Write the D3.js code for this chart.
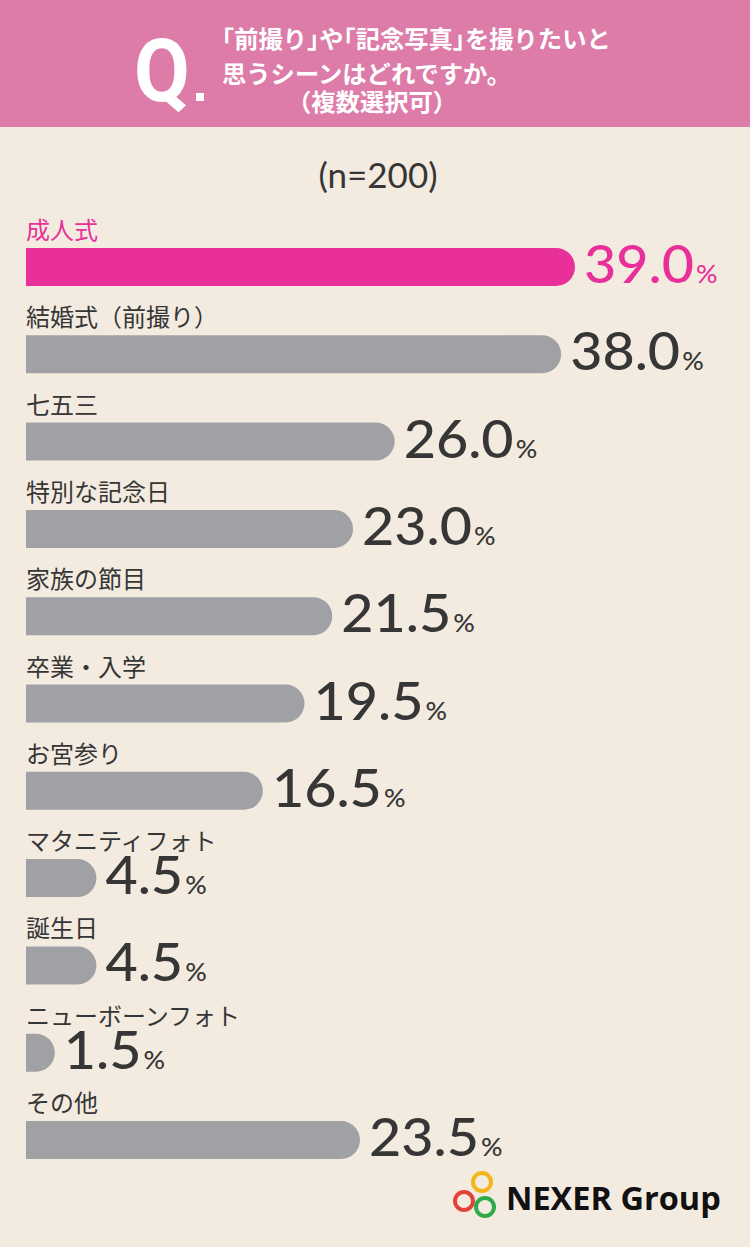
<!DOCTYPE html>
<html>
<head>
<meta charset="utf-8">
<script src="https://cdn.jsdelivr.net/npm/d3@7"></script>
<style>
  html, body { margin: 0; padding: 0; background: #f3ebe0; }
  svg { display: block; }
</style>
</head>
<body>
<div id="chart"></div>
<script>
// data
const categories = ['成人式', '結婚式（前撮り）', '七五三', '特別な記念日', '家族の節目',
  '卒業・入学', 'お宮参り', 'マタニティフォト', '誕生日', 'ニューボーンフォト', 'その他'];
const values = [39.0, 38.0, 26.0, 23.0, 21.5, 19.5, 16.5, 4.5, 4.5, 1.5, 23.5];
const titleLines = ['「前撮り」や「記念写真」を撮りたいと', '思うシーンはどれですか。', '（複数選択可）'];
const sampleLabel = '(n=200)';

const W = 750, H = 1247;
const pink = '#e9309a', gray = '#a0a1a5', ink = '#363636';
const jp = '"Noto Sans CJK JP", "Noto Sans", sans-serif';

const svg = d3.select('#chart').append('svg')
  .attr('width', W).attr('height', H);

svg.append('rect').attr('width', W).attr('height', H).attr('fill', '#f3ebe0');

// header band
svg.append('rect').attr('width', W).attr('height', 127).attr('fill', '#dd7ca9');

svg.append('text')
  .attr('transform', 'translate(134,101) scale(0.92,1)')
  .attr('font-family', 'Roboto, sans-serif')
  .attr('font-weight', 700)
  .attr('font-size', 88)
  .attr('fill', '#fff')
  .text('Q');
svg.append('rect')
  .attr('x', 196).attr('y', 93).attr('width', 8).attr('height', 8)
  .attr('fill', '#fff');

// brackets are set half width, like the original
const tfs = 24.3;
function bracketDx(s) {
  const chars = Array.from(s);
  return chars.map((c, i) => {
    let dx = 0;
    if (c === '「') dx -= tfs / 2;
    if (i > 0 && chars[i - 1] === '」') dx -= tfs / 2;
    return dx;
  }).join(' ');
}
const titleY = [48, 83, 111];
const titleX = [222, 222, 287];
svg.append('g').selectAll('text')
  .data(titleLines)
  .join('text')
  .attr('x', (d, i) => titleX[i])
  .attr('y', (d, i) => titleY[i])
  .attr('dx', d => bracketDx(d))
  .attr('font-family', jp)
  .attr('font-weight', 700)
  .attr('font-size', tfs)
  .attr('fill', '#fff')
  .text(d => d);

svg.append('text')
  .attr('x', 378).attr('y', 188)
  .attr('text-anchor', 'middle')
  .attr('font-family', 'Lato, sans-serif')
  .attr('font-size', 35)
  .attr('fill', ink)
  .text(sampleLabel);

// bars
const x0 = 26;
const x = d3.scaleLinear().domain([0, 39]).range([8, 549]);
const y = d3.scalePoint().domain(categories).range([248, 1121]);

const barH = 38, r = 19;
const row = svg.append('g').selectAll('g')
  .data(categories.map((c, i) => ({ c, v: values[i], i })))
  .join('g')
  .attr('transform', d => `translate(0,${y(d.c)})`);

function barPath(w) {
  const rr = Math.min(r, w);
  return `M${x0},0 H${x0 + w - rr} A${rr},${rr} 0 0 1 ${x0 + w},${rr}` +
    ` V${barH - rr} A${rr},${rr} 0 0 1 ${x0 + w - rr},${barH} H${x0} Z`;
}

row.append('path')
  .attr('d', d => barPath(x(d.v)))
  .attr('fill', d => d.i === 0 ? pink : gray);

row.append('text')
  .attr('x', x0).attr('y', -9)
  .attr('font-family', jp)
  .attr('font-size', 24)
  .attr('fill', d => d.i === 0 ? pink : ink)
  .text(d => d.c);

const val = row.append('text')
  .attr('transform', d => `translate(${x0 + x(d.v) + 9},35) scale(1.07,1)`)
  .attr('font-family', 'Lato, sans-serif')
  .attr('font-weight', 500)
  .attr('fill', d => d.i === 0 ? pink : ink);
val.append('tspan').attr('font-size', 52).text(d => d.v.toFixed(1));
val.append('tspan').attr('font-size', 25).attr('dx', 2).text('%');

// logo
const logo = svg.append('g');
[['#f2b51c', 482, 1182], ['#e1433b', 464, 1201], ['#2eaa4a', 485, 1207]].forEach(([c, cx, cy]) => {
  logo.append('circle').attr('cx', cx).attr('cy', cy).attr('r', 9)
    .attr('fill', 'none').attr('stroke', c).attr('stroke-width', 4);
});
logo.append('text')
  .attr('x', 506).attr('y', 1210)
  .attr('font-family', '"Open Sans", sans-serif')
  .attr('font-weight', 700)
  .attr('font-size', 32.5)
  .attr('fill', '#111')
  .text('NEXER Group');
</script>
</body>
</html>
